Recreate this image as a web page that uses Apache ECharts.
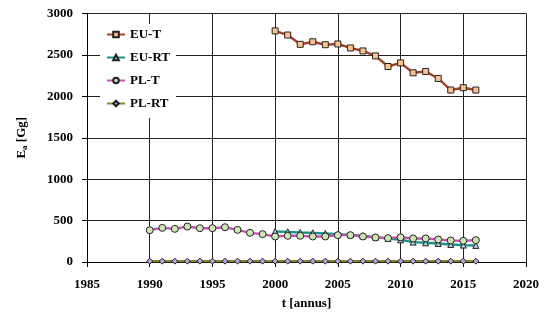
<!DOCTYPE html>
<html>
<head>
<meta charset="utf-8">
<script src="https://cdn.jsdelivr.net/npm/echarts@6/dist/echarts.min.js"></script>
<style>
  html, body { margin: 0; padding: 0; background: #fff; }
  #chart { width: 551px; height: 320px; }
</style>
</head>
<body>
<div id="chart"></div>
<script>
// Emissions [Gg] by year
const yearsPL = [1990, 1991, 1992, 1993, 1994, 1995, 1996, 1997, 1998, 1999, 2000, 2001, 2002, 2003,
  2004, 2005, 2006, 2007, 2008, 2009, 2010, 2011, 2012, 2013, 2014, 2015, 2016];
const yearsEU = [2000, 2001, 2002, 2003, 2004, 2005, 2006, 2007, 2008, 2009, 2010, 2011, 2012, 2013,
  2014, 2015, 2016];

const euT  = [2790, 2740, 2628, 2659, 2623, 2632, 2584, 2548, 2488, 2360, 2404, 2284, 2300, 2216, 2076, 2104, 2076];
const euRT = [368, 364, 356, 352, 344, 336, 328, 316, 300, 284, 268, 240, 232, 224, 212, 204, 200];
const plT  = [384, 412, 400, 428, 408, 408, 420, 388, 352, 336, 308, 316, 316, 308, 308, 324, 324, 308,
  296, 288, 298, 284, 284, 272, 260, 256, 264];
const plRT = [10, 10, 10, 10, 10, 10, 10, 10, 10, 10, 10, 10, 10, 10, 10, 10, 10, 10, 10, 10, 10, 10,
  10, 10, 10, 10, 10];

const seriesNames = ['EU-T', 'EU-RT', 'PL-T', 'PL-RT'];
const xTicks = { min: 1985, max: 2020, step: 5 };
const yTicks = { min: 0, max: 3000, step: 500 };

const font = "'Liberation Serif', 'Times New Roman', serif";
const pair = (xs, ys) => xs.map((x, i) => [x, ys[i]]);
const plain = v => String(v);

function lineSeries(name, data, lineColor, symbol, fill, size) {
  return {
    name, type: 'line', data,
    symbol, symbolSize: size,
    lineStyle: { color: lineColor, width: 2.4 },
    itemStyle: { color: fill, borderColor: '#222', borderWidth: 1 },
    emphasis: { disabled: true },
    animation: false
  };
}

const txt = { fontFamily: font, fontWeight: 'bold', fontSize: 13, color: '#000' };

const chart = echarts.init(document.getElementById('chart'), null, { renderer: 'canvas' });
chart.setOption({
  backgroundColor: '#fff',
  animation: false,
  grid: { left: 87, right: 25, top: 13.5, bottom: 58, containLabel: false },
  legend: {
    orient: 'vertical',
    left: 100, top: 24,
    itemWidth: 18, itemHeight: 7, itemGap: 10,
    backgroundColor: '#fff',
    padding: [4, 6, 8, 6],
    textStyle: Object.assign({}, txt),
    data: seriesNames
  },
  xAxis: {
    type: 'value', min: xTicks.min, max: xTicks.max, interval: xTicks.step,
    name: 't [annus]', nameLocation: 'middle', nameGap: 35,
    nameTextStyle: Object.assign({}, txt),
    axisLine: { show: true, onZero: false, lineStyle: { color: '#000', width: 1 } },
    axisTick: { show: true, inside: false, length: 5, lineStyle: { color: '#000' } },
    axisLabel: Object.assign({ margin: 16, formatter: plain }, txt),
    splitLine: { show: true, lineStyle: { color: '#222', width: 1 } }
  },
  yAxis: {
    type: 'value', min: yTicks.min, max: yTicks.max, interval: yTicks.step,
    name: '{b|E}{s|a}{b| [Gg]}', nameLocation: 'middle', nameGap: 58, nameRotate: 90,
    nameTextStyle: {
      rich: {
        b: Object.assign({}, txt),
        s: { fontFamily: font, fontWeight: 'bold', fontSize: 9, color: '#000', verticalAlign: 'bottom', padding: [6, 0, 0, 0] }
      }
    },
    axisLine: { show: true, lineStyle: { color: '#000', width: 1 } },
    axisTick: { show: true, inside: false, length: 5, lineStyle: { color: '#000' } },
    axisLabel: Object.assign({ margin: 14, formatter: plain }, txt),
    splitLine: { show: true, lineStyle: { color: '#222', width: 1 } }
  },
  series: [
    lineSeries('EU-T', pair(yearsEU, euT), '#a3402c', 'rect', '#f8c28e', 6),
    lineSeries('EU-RT', pair(yearsEU, euRT), '#1b9289', 'triangle', '#a8cde6', 6),
    lineSeries('PL-T', pair(yearsPL, plT), '#c451b2', 'circle', '#cde6b4', 7),
    lineSeries('PL-RT', pair(yearsPL, plRT), '#85862f', 'diamond', '#b7a2d9', 6)
  ]
});
</script>
</body>
</html>
